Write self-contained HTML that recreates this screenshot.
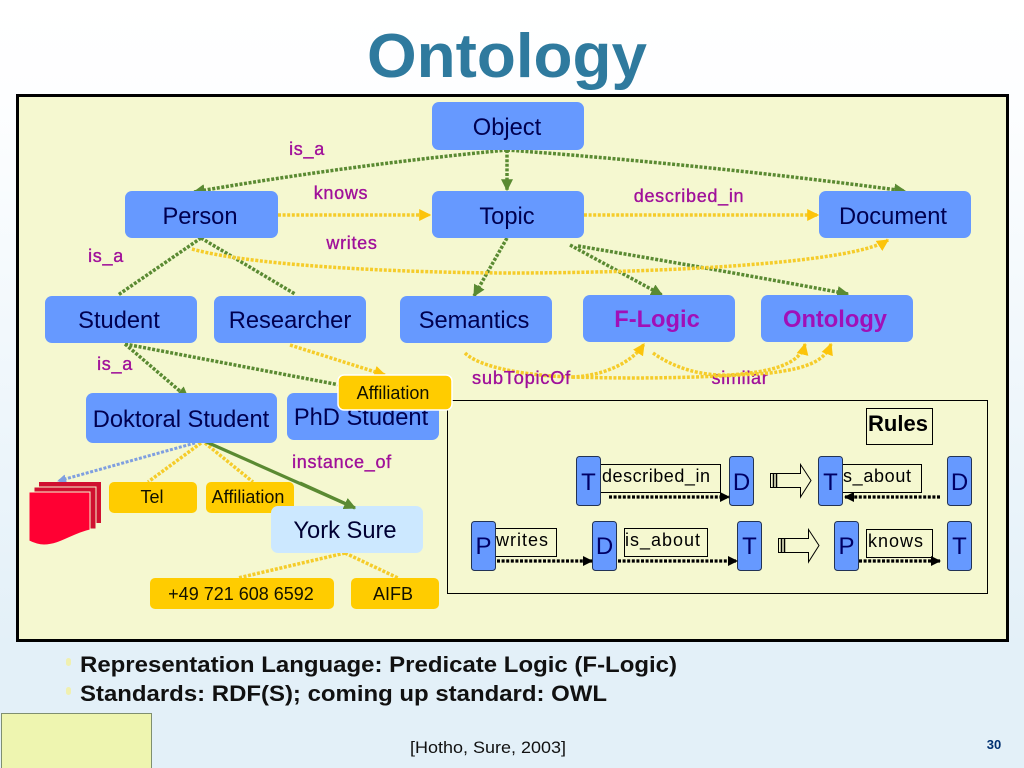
<!DOCTYPE html>
<html><head><meta charset="utf-8"><style>
html,body{margin:0;padding:0;width:1024px;height:768px;overflow:hidden}
svg{display:block}
text{font-family:"Liberation Sans",sans-serif}
.n{font-size:23.7px;fill:#000050;text-anchor:middle}
.y{font-size:18px;fill:#111100;text-anchor:middle}
.l{font-size:18px;fill:#a0109a;text-anchor:middle;stroke:#a0109a;stroke-width:.35;letter-spacing:.7px}
.r{font-size:18px;fill:#000;text-anchor:start}
.g{fill:none;stroke:#5a8a32;stroke-width:3.5;stroke-dasharray:3 1.6}
.o{fill:none;stroke:#f5cc2a;stroke-width:3.5;stroke-dasharray:3 1.6}
.k{fill:none;stroke:#000;stroke-width:3.2;stroke-dasharray:3 1.6}
.bx{fill:none;stroke:#000;stroke-width:1}
</style></head><body>
<svg width="1024" height="768" viewBox="0 0 1024 768" xmlns="http://www.w3.org/2000/svg">
<defs>
<linearGradient id="bg" x1="0" y1="0" x2="0" y2="1"><stop offset="0" stop-color="#ffffff"/><stop offset=".13" stop-color="#fdfeff"/><stop offset=".84" stop-color="#e3f0f8"/><stop offset="1" stop-color="#e3f0f8"/></linearGradient>
<marker id="mg" viewBox="0 0 10 10" refX="9" refY="5" markerWidth="12" markerHeight="12" markerUnits="userSpaceOnUse" orient="auto"><path d="M0 0L10 5L0 10z" fill="#5a8a32"/></marker>
<marker id="mo" viewBox="0 0 10 10" refX="9" refY="5" markerWidth="12" markerHeight="12" markerUnits="userSpaceOnUse" orient="auto"><path d="M0 0L10 5L0 10z" fill="#fcc40a"/></marker>
<marker id="mb" viewBox="0 0 10 10" refX="9" refY="5" markerWidth="9" markerHeight="9" markerUnits="userSpaceOnUse" orient="auto"><path d="M0 0L10 5L0 10z" fill="#7f9fe0"/></marker>
<marker id="mk" viewBox="0 0 10 10" refX="9" refY="5" markerWidth="10" markerHeight="10" markerUnits="userSpaceOnUse" orient="auto"><path d="M0 0L10 5L0 10z" fill="#000"/></marker>
</defs>
<rect width="1024" height="768" fill="url(#bg)"/>
<text x="507" y="77" text-anchor="middle" font-size="62" font-weight="bold" fill="#2f7a9e" textLength="280" lengthAdjust="spacingAndGlyphs">Ontology</text>
<rect x="17.5" y="95.5" width="990" height="545" fill="#f5f8d0" stroke="#000" stroke-width="3"/>
<rect x="447.5" y="400.5" width="540" height="193" fill="none" stroke="#000" stroke-width="1"/>

<text class="l" x="740" y="384">similar</text>

<!-- connectors -->
<path class="g" marker-end="url(#mg)" d="M507 150Q350 165 194 192"/>
<path class="g" marker-end="url(#mg)" d="M507 150V190"/>
<path class="g" marker-end="url(#mg)" d="M507 150Q710 165 905 191"/>
<path class="g" d="M201 238L118 295"/>
<path class="g" d="M201 238L295 294"/>
<path class="g" marker-end="url(#mg)" d="M507 238L474 296"/>
<path class="g" marker-end="url(#mg)" d="M570 245L662 295"/>
<path class="g" marker-end="url(#mg)" d="M578 246Q720 270 848 294"/>
<path class="g" marker-end="url(#mg)" d="M125 344L188 398"/>
<path class="g" d="M125 344L345 386"/>
<path class="o" marker-end="url(#mo)" d="M278 215H430"/>
<path class="o" marker-end="url(#mo)" d="M584 215H818"/>
<path class="o" marker-end="url(#mo)" d="M192 249C260 268 430 273 512 273C640 273 850 265 888 240"/>
<path class="o" marker-end="url(#mo)" d="M290 345L385 375"/>
<path class="o" d="M465 353C480 368 530 376 572 377"/>
<path class="o" marker-end="url(#mo)" d="M572 377C600 376 630 365 644 344"/>
<path class="o" marker-end="url(#mo)" d="M653 353C680 372 710 376 730 375C770 372 800 365 805 344"/>
<path class="o" marker-end="url(#mo)" d="M572 377C640 379 700 378 770 373C810 368 825 360 831 344"/>
<path fill="none" stroke="#7f9fe0" stroke-width="3" stroke-dasharray="3 1.6" marker-end="url(#mb)" d="M195 443L58 481"/>
<path class="o" d="M201 443L148 482"/>
<path class="o" d="M205 443L253 482"/>
<path fill="none" stroke="#5a8a32" stroke-width="3.2" marker-end="url(#mg)" d="M202 440L355 508"/>
<path class="o" d="M345 553L238 578"/>
<path class="o" d="M345 553L398 578"/>

<!-- nodes -->
<g fill="#6699ff">
<rect x="432" y="102" width="152" height="48" rx="7"/>
<rect x="125" y="191" width="153" height="47" rx="7"/>
<rect x="432" y="191" width="152" height="47" rx="7"/>
<rect x="819" y="191" width="152" height="47" rx="7"/>
<rect x="45" y="296" width="152" height="47" rx="7"/>
<rect x="214" y="296" width="152" height="47" rx="7"/>
<rect x="400" y="296" width="152" height="47" rx="7"/>
<rect x="583" y="295" width="152" height="47" rx="7"/>
<rect x="761" y="295" width="152" height="47" rx="7"/>
<rect x="86" y="393" width="191" height="50" rx="7"/>
<rect x="287" y="393" width="152" height="47" rx="7"/>
</g>
<text class="n" x="507" y="135">Object</text>
<text class="n" x="200" y="224">Person</text>
<text class="n" x="507" y="224">Topic</text>
<text class="n" x="893" y="224">Document</text>
<text class="n" x="119" y="328">Student</text>
<text class="n" x="290" y="328">Researcher</text>
<text class="n" x="474" y="328">Semantics</text>
<text class="n" x="657" y="327" font-weight="bold" style="fill:#a010b8">F-Logic</text>
<text class="n" x="835" y="327" font-weight="bold" style="fill:#a010b8">Ontology</text>
<text class="n" x="181" y="427">Doktoral Student</text>
<text class="n" x="361" y="425">PhD Student</text>
<rect x="338" y="375" width="114" height="35" rx="6" fill="#ffcc00" stroke="#fff" stroke-width="1.5"/>
<text class="y" x="393" y="399">Affiliation</text>

<g fill="#ffcc00">
<rect x="109" y="482" width="88" height="31" rx="5"/>
<rect x="206" y="482" width="88" height="31" rx="5"/>
<rect x="150" y="578" width="184" height="31" rx="5"/>
<rect x="351" y="578" width="88" height="31" rx="5"/>
</g>
<text class="y" x="152" y="503">Tel</text>
<text class="y" x="248" y="503">Affiliation</text>
<text class="y" x="241" y="600">+49 721 608 6592</text>
<text class="y" x="393" y="600">AIFB</text>
<rect x="271" y="506" width="152" height="47" rx="7" fill="#cce8ff"/>
<text class="n" x="345" y="538" style="fill:#000033">York Sure</text>
<path fill="none" stroke="#5a8a32" stroke-width="3.2" marker-end="url(#mg)" d="M300 483L355 508"/>

<!-- red docs -->
<rect x="39" y="482" width="62" height="41" fill="#d01030"/>
<rect x="34" y="487" width="62" height="42" fill="#d01030" stroke="#f5f8d0" stroke-width="1"/>
<path d="M29 492H90V530C72 534 60 545 44 545C38 545 33 543 29 541z" fill="#ff0033" stroke="#f5f8d0" stroke-width="1"/>

<!-- labels -->
<text class="l" x="307" y="155">is_a</text>
<text class="l" x="341" y="199">knows</text>
<text class="l" x="689" y="202">described_in</text>
<text class="l" x="352" y="249">writes</text>
<text class="l" x="106" y="262">is_a</text>
<text class="l" x="115" y="370">is_a</text>
<text class="l" x="521.5" y="384" textLength="99" lengthAdjust="spacingAndGlyphs">subTopicOf</text>
<text class="l" x="342" y="468">instance_of</text>

<!-- rules -->
<rect class="bx" x="866.5" y="408.5" width="66" height="36" fill="none"/>
<text x="898" y="431" text-anchor="middle" font-size="22" font-weight="bold" fill="#000">Rules</text>
<g fill="none" stroke="#000" stroke-width="1">
<rect x="600.5" y="464.5" width="120" height="28"/>
<rect x="842.5" y="464.5" width="79" height="28"/>
<rect x="495.5" y="528.5" width="61" height="28"/>
<rect x="624.5" y="528.5" width="83" height="28"/>
<rect x="866.5" y="529.5" width="66" height="28"/>
</g>
<g fill="#6699ff" stroke="#223355" stroke-width="1">
<rect x="576.5" y="456.5" width="24" height="49" rx="3"/>
<rect x="729.5" y="456.5" width="24" height="49" rx="3"/>
<rect x="818.5" y="456.5" width="24" height="49" rx="3"/>
<rect x="947.5" y="456.5" width="24" height="49" rx="3"/>
<rect x="471.5" y="521.5" width="24" height="49" rx="3"/>
<rect x="592.5" y="521.5" width="24" height="49" rx="3"/>
<rect x="737.5" y="521.5" width="24" height="49" rx="3"/>
<rect x="834.5" y="521.5" width="24" height="49" rx="3"/>
<rect x="947.5" y="521.5" width="24" height="49" rx="3"/>
</g>
<g font-size="24" fill="#000066" text-anchor="middle">
<text x="588.5" y="490">T</text><text x="741.5" y="490">D</text><text x="830.5" y="490">T</text><text x="959.5" y="490">D</text>
<text x="483.5" y="554">P</text><text x="604.5" y="554">D</text><text x="749.5" y="554">T</text><text x="846.5" y="554">P</text><text x="959.5" y="554">T</text>
</g>
<text class="r" x="602" y="482" textLength="108">described_in</text>
<text class="r" x="843" y="482" textLength="68">s_about</text>
<text class="r" x="496" y="546" textLength="52">writes</text>
<text class="r" x="625" y="546" textLength="75">is_about</text>
<text class="r" x="868" y="547" textLength="55">knows</text>
<path class="k" marker-end="url(#mk)" d="M609 497H729"/>
<path class="k" marker-end="url(#mk)" d="M940 497H845"/>
<path class="k" marker-end="url(#mk)" d="M497 561H592"/>
<path class="k" marker-end="url(#mk)" d="M618 561H737"/>
<path class="k" marker-end="url(#mk)" d="M859 561H940"/>
<g fill="#f5f8d0" stroke="#000" stroke-width="1">
<path d="M770.5 473.5H800.5V464.5L811 480.5L800.5 497V487.5H770.5z"/>
<path d="M778.5 538.5H808.5V529.5L819 545.5L808.5 562V552.5H778.5z"/>
</g>
<g stroke="#000" stroke-width="1.5"><path d="M773.5 473V488M776.5 473V488M781.5 538V553M784.5 538V553"/></g>

<!-- bottom -->
<rect x="66" y="658" width="5" height="8" rx="2.5" fill="#f0f0b0"/>
<rect x="66" y="687" width="5" height="8" rx="2.5" fill="#f0f0b0"/>
<text x="80" y="672" font-size="22" font-weight="bold" fill="#111" textLength="597" lengthAdjust="spacingAndGlyphs">Representation Language: Predicate Logic (F-Logic)</text>
<text x="80" y="701" font-size="22" font-weight="bold" fill="#111" textLength="527" lengthAdjust="spacingAndGlyphs">Standards: RDF(S); coming up standard: OWL</text>
<rect x="1.5" y="713.5" width="150" height="60" fill="#eef5b0" stroke="#7f8f70" stroke-width="1"/>
<text x="488" y="753" text-anchor="middle" font-size="17" fill="#111" textLength="156" lengthAdjust="spacingAndGlyphs">[Hotho, Sure, 2003]</text>
<text x="994" y="749" text-anchor="middle" font-size="13" font-weight="bold" fill="#003070">30</text>
</svg>
</body></html>
